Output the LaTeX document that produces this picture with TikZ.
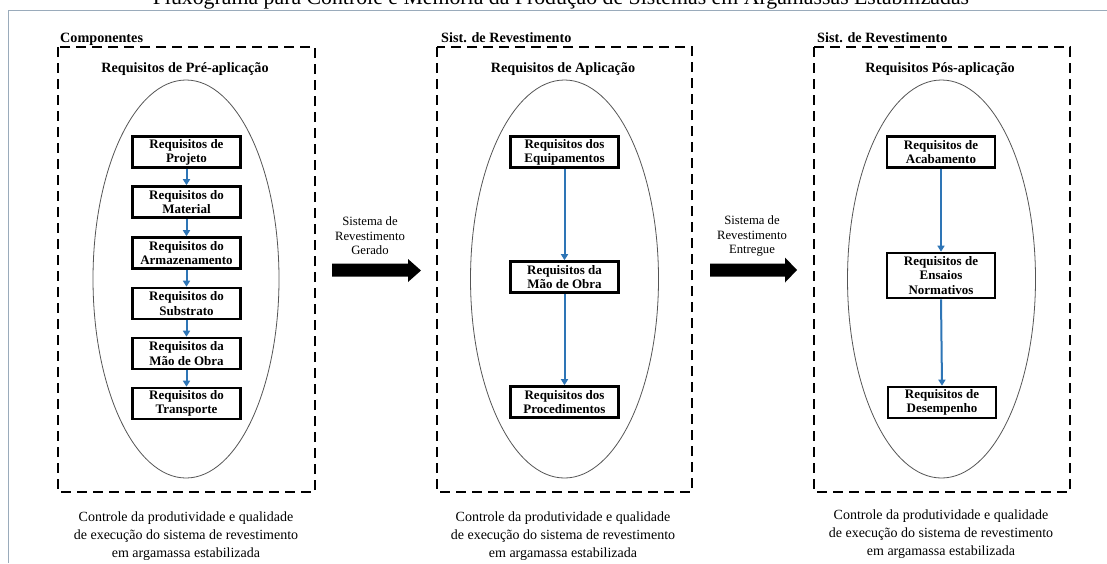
\documentclass[tikz,border=0pt]{standalone}
\usepackage{fontspec}
\setmainfont{Liberation Serif}
\usetikzlibrary{arrows.meta}
\definecolor{framegray}{HTML}{9AABBB}
\definecolor{flowblue}{HTML}{2E75B6}
\definecolor{ovalgray}{HTML}{555555}
\tikzset{
  reqbox/.style={draw, line width=2.6pt, minimum width=108pt, minimum height=31pt,
    inner sep=1pt, align=center, font=\fontsize{13}{14.2}\selectfont\bfseries},
  phasebox/.style={draw, line width=2pt, dash pattern=on 10pt off 6pt},
  oval/.style={draw=ovalgray, line width=0.8pt},
  flow/.style={draw=flowblue, line width=2pt, -{Triangle[width=7pt,length=6pt]}},
  grouplabel/.style={anchor=base west, inner sep=0pt, font=\fontsize{14.2}{16}\selectfont\bfseries},
  heading/.style={anchor=base, inner sep=0pt, font=\fontsize{14.2}{16}\selectfont\bfseries},
  note/.style={align=center, inner sep=0pt, font=\fontsize{14}{17.8}\selectfont},
  transition/.style={align=center, inner sep=0pt, font=\fontsize{12.7}{14.5}\selectfont},
  bigarrow/.style={fill=black}
}
\begin{document}
\begin{tikzpicture}[x=1pt, y=-1pt]
\useasboundingbox (0,0) rectangle (1107,563);
\fill[white] (0,0) rectangle (1107,563);

% page frame and title
\draw[framegray, line width=1pt] (8,563) -- (8,10) -- (1107,10);
\node[anchor=base, inner sep=0pt, font=\fontsize{21.8}{24}\selectfont] (title) at (561,4)
  {Fluxograma para Controle e Memória da Produção de Sistemas em Argamassas Estabilizadas};

% ---------- phase 1: components ----------
\draw[phasebox] (58,47) rectangle (315,492);
\node[grouplabel] (g1) at (60,42.5) {Componentes};
\node[heading] (h1) at (185,72.5) {Requisitos de Pré-aplicação};
\draw[oval] (186,279) ellipse [x radius=93pt, y radius=199pt];
\node[reqbox] (p1) at (186.5,152) {Requisitos de\\Projeto};
\node[reqbox] (p2) at (186.5,202) {Requisitos do\\Material};
\node[reqbox] (p3) at (186.5,253) {Requisitos do\\Armazenamento};
\node[reqbox] (p4) at (186.5,303.5) {Requisitos do\\Substrato};
\node[reqbox] (p5) at (186.5,353.5) {Requisitos da\\Mão de Obra};
\node[reqbox] (p6) at (186.5,403.5) {Requisitos do\\Transporte};
\foreach \a/\b in {p1/p2,p2/p3,p3/p4,p4/p5,p5/p6}
  \draw[flow] (\a.south) -- (\b.north);
\node[note] (n1) at (186,536) {Controle da produtividade e qualidade\\de execução do sistema de revestimento\\em argamassa estabilizada};

% ---------- phase 2: application ----------
\draw[phasebox] (437,47) rectangle (692,492);
\node[grouplabel] (g2) at (441,42.5) {Sist. de Revestimento};
\node[heading] (h2) at (563,72.5) {Requisitos de Aplicação};
\draw[oval] (564.5,279) ellipse [x radius=94pt, y radius=199pt];
\node[reqbox] (a1) at (564.5,152) {Requisitos dos\\Equipamentos};
\node[reqbox] (a2) at (564.5,277) {Requisitos da\\Mão de Obra};
\node[reqbox] (a3) at (564.5,402) {Requisitos dos\\Procedimentos};
\draw[flow] (a1.south) -- (a2.north);
\draw[flow] (a2.south) -- (a3.north);
\node[note] (n2) at (563,536) {Controle da produtividade e qualidade\\de execução do sistema de revestimento\\em argamassa estabilizada};

% ---------- phase 3: post-application ----------
\draw[phasebox] (814,47) rectangle (1070,492);
\node[grouplabel] (g3) at (817,42.5) {Sist. de Revestimento};
\node[heading] (h3) at (940,72.5) {Requisitos Pós-aplicação};
\draw[oval] (941.5,279) ellipse [x radius=94pt, y radius=199pt];
\node[reqbox] (c1) at (941,152) {Requisitos de\\Acabamento};
\node[reqbox, minimum height=45pt] (c2) at (941,275.5) {Requisitos de\\Ensaios\\Normativos};
\node[reqbox] (c3) at (942,402.5) {Requisitos de\\Desempenho};
\draw[flow] (c1.south) -- (c2.north);
\draw[flow] (c2.south) -- (c3.north);
\node[note] (n3) at (941,534) {Controle da produtividade e qualidade\\de execução do sistema de revestimento\\em argamassa estabilizada};

% ---------- transitions between phases ----------
\fill[bigarrow] (332,263.5) -- (408,263.5) -- (408,259) -- (421,270.5) -- (408,282)
  -- (408,276.5) -- (332,276.5) -- cycle;
\node[transition] (t1) at (370,236) {Sistema de\\Revestimento\\Gerado};
\fill[bigarrow] (710,263.5) -- (785,263.5) -- (785,257.5) -- (797,270) -- (785,282.5)
  -- (785,276.5) -- (710,276.5) -- cycle;
\node[transition] (t2) at (752,236) {Sistema de\\Revestimento\\Entregue};
\end{tikzpicture}
\end{document}
